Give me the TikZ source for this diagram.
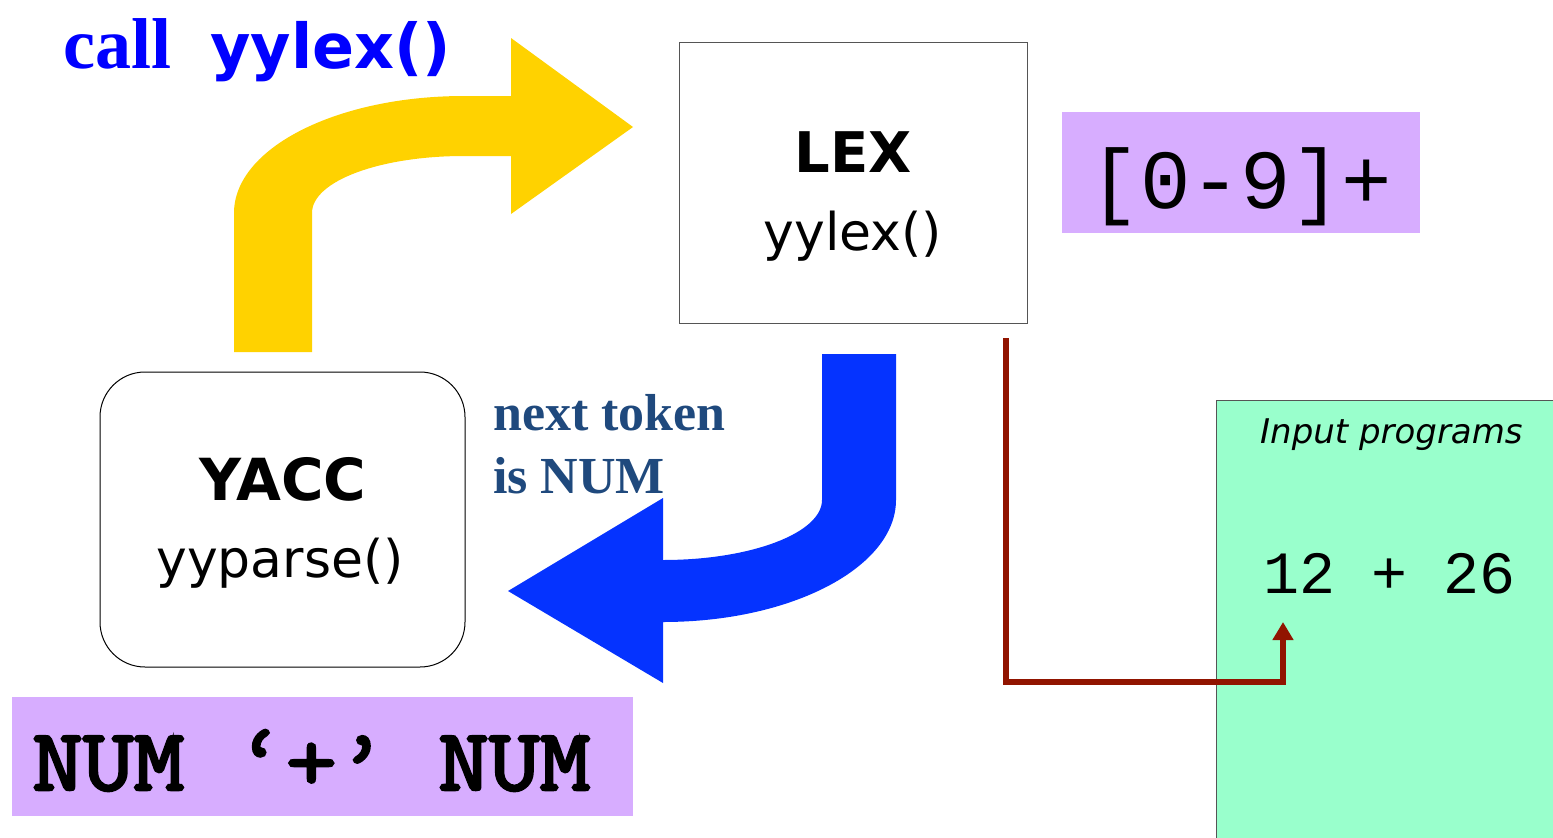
\documentclass[tikz,border=0pt]{standalone}
\usepackage{fontspec}
\setmainfont{Liberation Serif}
\newfontfamily\comicfont{DejaVu Sans}
\newfontfamily\codefont{Liberation Mono}
\newfontfamily\courfont[FakeBold=3]{Latin Modern Mono}
\usetikzlibrary{arrows.meta, positioning}
\definecolor{callblue}{HTML}{0000FF}
\definecolor{tokblue}{HTML}{1F497D}
\definecolor{bendyellow}{HTML}{FFD200}
\definecolor{bendblue}{HTML}{0533FF}
\definecolor{lilac}{HTML}{D7ADFF}
\definecolor{mint}{HTML}{99FFCC}
\definecolor{linkred}{HTML}{911400}
\definecolor{edgegray}{HTML}{555555}
\newcommand{\fsCall}{\fontsize{72}{80}\selectfont}
\newcommand{\fsBig}{\fontsize{52}{60}\selectfont}
\newcommand{\fsNote}{\fontsize{52}{60}\selectfont}

\begin{document}
\begin{tikzpicture}[x=1pt, y=-1pt,
    box/.style={draw=edgegray, line width=1pt, inner sep=0pt},
    tag/.style={fill=lilac, inner sep=0pt},
    txt/.style={anchor=base west, inner sep=0pt},
    link/.style={draw=linkred, line width=6pt, -{Triangle[width=20pt,length=18pt]}}]
  \useasboundingbox (0,0) rectangle (1553,838);
  % boxes
  \node[box, minimum width=348pt, minimum height=281pt] (lex) at (853,182.5) {};
  \node[box, draw=black, rounded corners=45pt, minimum width=365pt, minimum height=295pt] (yacc) at (282.5,519.5) {};
  \node[tag, minimum width=358pt, minimum height=121pt] (regex) at (1241,172.5) {};
  \node[tag, minimum width=621pt, minimum height=119pt] (rule) at (322.5,756.5) {};
  \node[box, fill=mint, minimum width=344pt, minimum height=445pt] (input) at (1388,622.5) {};
  % bent arrows
  \fill[bendyellow] (234,352) -- (234,213) .. controls (234,148) and (337,96) .. (464,96)
    -- (511,96) -- (511,38) -- (633,127) -- (511,214) -- (511,156) -- (464,156)
    .. controls (380,156) and (312,181) .. (312,213) -- (312,352) -- cycle;
  \fill[bendblue] (822,354) -- (822,500) .. controls (822,533) and (751,560) .. (663,560)
    -- (663,498) -- (508,591) -- (663,683) -- (663,622)
    .. controls (792,622) and (896,567) .. (896,500) -- (896,354) -- cycle;
  % labels
  \node[txt, font=\fsCall\bfseries, text=callblue] (call) at (63,68) {call};
  \node[txt, font=\comicfont\fontsize{62}{70}\selectfont\bfseries, text=callblue] (callfn) at (210,68) {yylex()};
  \node[anchor=base, inner sep=0pt, font=\comicfont\fontsize{56}{64}\selectfont\bfseries] (lexname) at (853,172) {LEX};
  \node[anchor=base, inner sep=0pt, font=\comicfont\fsBig] (lexfn) at (853,250) {yylex()};
  \node[anchor=base, inner sep=0pt, font=\comicfont\fontsize{58}{64}\selectfont\bfseries] (yaccname) at (283,500) {YACC};
  \node[anchor=base, inner sep=0pt, font=\comicfont\fsBig] (yaccfn) at (280,577) {yyparse()};
  \node[txt, font=\fsNote\bfseries, text=tokblue] (next1) at (493,430) {next token};
  \node[txt, font=\fsNote\bfseries, text=tokblue] (next2) at (493,493) {is NUM};
  \node[anchor=base, inner sep=0pt, font=\codefont\fontsize{84}{90}\selectfont] (pattern) at (1241,208) {[0-9]+};
  \node[txt, font=\courfont\fontsize{88}{90}\selectfont] (tokens) at (32,790) {\scalebox{1.12}[1]{NUM ‘+’ NUM}};
  \node[txt, font=\comicfont\fontsize{34}{40}\selectfont\itshape] (inhead) at (1260,443) {Input programs};
  \node[txt, font=\codefont\fontsize{60}{64}\selectfont] (prog) at (1263,593) {12 + 26};
  % lexer reads the input
  \coordinate (lexout) at (1006,338);
  \coordinate (bend) at (1283,682);
  \coordinate (tok) at (1283,622);
  \draw[link] (lexout) |- (bend) -- (tok);
\end{tikzpicture}
\end{document}
